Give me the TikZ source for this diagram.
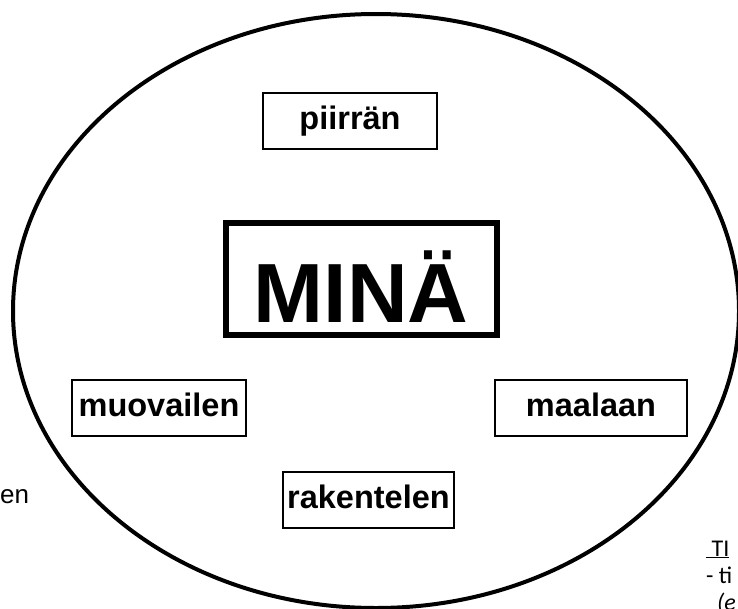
\documentclass[tikz,border=0pt]{standalone}
\usepackage{fontspec}
\setmainfont{Liberation Sans}
\newfontfamily\calibri{Carlito}
\usetikzlibrary{shapes.geometric}

\begin{document}
\begin{tikzpicture}
      [x=1pt, y=-1pt,
      word/.style={draw=black, line width=1.6pt, minimum height=56pt,
        inner sep=0pt, text height=24pt, text depth=7pt,
        font=\bfseries\fontsize{32.5}{38}\selectfont},
      self/.style={draw=black, line width=6pt, minimum width=271pt,
        minimum height=112pt, inner sep=0pt, text height=86pt, text depth=0pt,
        font=\bfseries\fontsize{84}{90}\selectfont},
      note/.style={anchor=base west, inner sep=0pt,
        font=\calibri\fontsize{24}{28}\selectfont}]
      \useasboundingbox (0,0) rectangle (738,608);
      \node (ring) at (376, 311) [ellipse, draw=black, line width=4pt,
        minimum width=726pt, minimum height=594pt, inner sep=0pt] {};
      \node (mina) at (361, 279) [self] {MINÄ};
      \node (piirran) at (350, 121) [word, minimum width=174pt] {piirrän};
      \node (muovailen) at (159, 408) [word, minimum width=174pt] {muovailen};
      \node (maalaan) at (591, 408) [word, minimum width=192pt] {maalaan};
      \node (rakentelen) at (368.5, 500) [word, minimum width=171pt] {rakentelen};
      % text cut off at the page edges
      \node (en) at (0, 503) [anchor=base west, inner sep=0pt,
        font=\fontsize{26}{30}\selectfont] {en};
      \node (ti1) at (706, 556) [note] {\underline{\ TI}};
      \node (ti2) at (706, 583) [note] {- ti};
      \node (ti3) at (706, 610) [note] {\ \ \textit{(e}};
    \end{tikzpicture}
\end{document}
